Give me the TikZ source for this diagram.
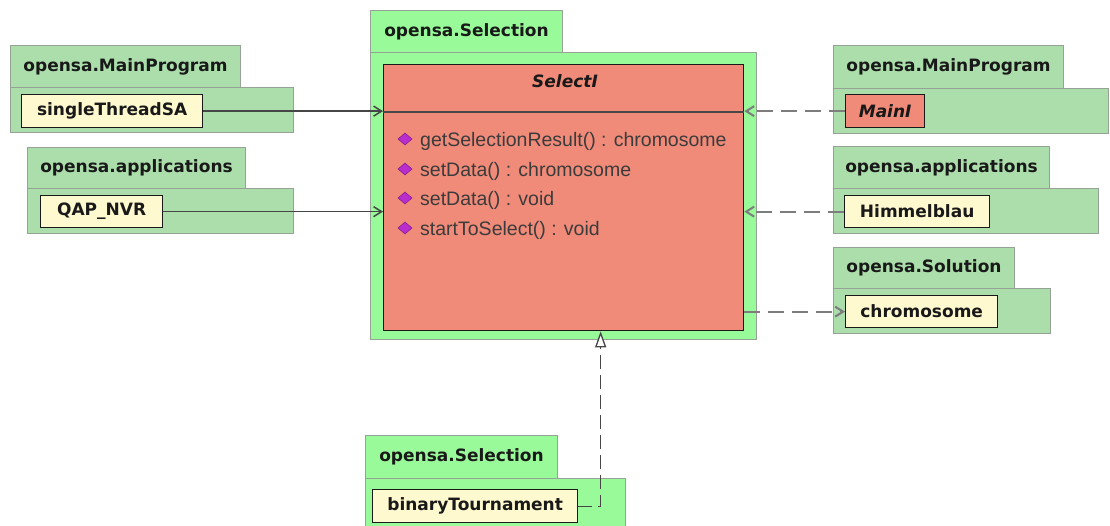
\documentclass[tikz,border=0pt]{standalone}
\usepackage{fontspec}
\setmainfont{Liberation Sans}
\newfontfamily\lblfont{DejaVu Sans}
\usetikzlibrary{arrows.meta}

\definecolor{pkgmuted}{RGB}{172,222,172}
\definecolor{pkgbright}{RGB}{152,250,152}
\definecolor{pkgedge}{RGB}{150,162,150}
\definecolor{clsfill}{RGB}{240,139,121}
\definecolor{leaffill}{RGB}{255,249,207}
\definecolor{gemcol}{RGB}{185,45,205}
\definecolor{gemedge}{RGB}{110,20,130}
\definecolor{inkdark}{RGB}{25,25,25}
\definecolor{linkdark}{RGB}{70,70,70}
\definecolor{linkgray}{RGB}{125,125,125}

\tikzset{
  x=1pt, y=-1pt,
  pkgbody/.style={draw=pkgedge, fill=pkgmuted, line width=1pt, anchor=north west, inner sep=0pt},
  pkgtab/.style={pkgbody, text=inkdark, font=\lblfont\bfseries\fontsize{17}{20}\selectfont},
  corebody/.style={pkgbody, fill=pkgbright},
  coretab/.style={pkgtab, fill=pkgbright},
  leaf/.style={draw=inkdark, fill=leaffill, line width=1.3pt, anchor=north west, inner sep=0pt,
    text=inkdark, font=\lblfont\bfseries\fontsize{17}{20}\selectfont},
  ileaf/.style={leaf, fill=clsfill, font=\lblfont\bfseries\itshape\fontsize{17}{20}\selectfont},
  clsbox/.style={draw=inkdark, fill=clsfill, line width=1.3pt, anchor=north west, inner sep=0pt},
  optext/.style={anchor=west, inner sep=0pt, text=inkdark!85, font=\fontsize{19.5}{22}\selectfont},
  opgem/.pic={\fill[gemcol, draw=gemedge, line width=0.4pt] (0,-6) -- (7,0) -- (0,6) -- (-7,0) -- cycle;},
  uses/.style={draw=linkdark, line width=1.5pt, -{Straight Barb[length=8pt,width=10pt]}},
  depend/.style={draw=linkgray, line width=2pt, dash pattern=on 16pt off 8pt,
    -{Straight Barb[length=8pt,width=10pt]}},
  realize/.style={draw=linkdark, line width=1.3pt, dash pattern=on 14pt off 6pt,
    -{Triangle[open, fill=white, length=16pt, width=11pt]}}
}

\begin{document}
\begin{tikzpicture}
\useasboundingbox (0,0) rectangle (1110,526);

% central package with the interface
\node[corebody, minimum width=386pt, minimum height=287pt] (corepkg) at (370,52) {};
\node[coretab, minimum width=192pt, minimum height=42pt] (coretab) at (370,10) {opensa.Selection};
\node[clsbox, minimum width=360pt, minimum height=266pt] (cls) at (383,64) {};
\node[inner sep=0pt, text=inkdark, font=\lblfont\bfseries\itshape\fontsize{17}{20}\selectfont] (clsname) at (565,81) {SelectI};
\draw[draw=inkdark!80, line width=1.3pt] (cls.west |- 0,112) -- (cls.east |- 0,112);

\pic at (405,139) {opgem};
\node[optext] (op1) at (420,141) {getSelectionResult() : chromosome};
\pic at (405,169) {opgem};
\node[optext] (op2) at (420,171) {setData() : chromosome};
\pic at (405,198) {opgem};
\node[optext] (op3) at (420,200) {setData() : void};
\pic at (405,228) {opgem};
\node[optext] (op4) at (420,230) {startToSelect() : void};

% left: opensa.MainProgram
\node[pkgbody, minimum width=283pt, minimum height=45pt] (lmainbody) at (10,87) {};
\node[pkgtab, minimum width=230pt, minimum height=42pt] (lmaintab) at (10,45) {opensa.MainProgram};
\node[leaf, minimum width=181pt, minimum height=33pt] (sts) at (21,94) {singleThreadSA};

% left: opensa.applications
\node[pkgbody, minimum width=266pt, minimum height=45pt] (lappbody) at (27,188) {};
\node[pkgtab, minimum width=218pt, minimum height=41pt] (lapptab) at (27,147) {opensa.applications};
\node[leaf, minimum width=122pt, minimum height=32pt] (qap) at (40,195) {QAP\_NVR};

% right: opensa.MainProgram
\node[pkgbody, minimum width=275pt, minimum height=45pt] (rmainbody) at (833,88) {};
\node[pkgtab, minimum width=230pt, minimum height=43pt] (rmaintab) at (833,45) {opensa.MainProgram};
\node[ileaf, minimum width=79pt, minimum height=33pt] (maini) at (845,94) {MainI};

% right: opensa.applications
\node[pkgbody, minimum width=265pt, minimum height=45pt] (rappbody) at (833,188) {};
\node[pkgtab, minimum width=216pt, minimum height=42pt] (rapptab) at (833,146) {opensa.applications};
\node[leaf, minimum width=145pt, minimum height=32pt] (himmel) at (844,195) {Himmelblau};

% right: opensa.Solution
\node[pkgbody, minimum width=217pt, minimum height=45pt] (solbody) at (833,288) {};
\node[pkgtab, minimum width=181pt, minimum height=41pt] (soltab) at (833,247) {opensa.Solution};
\node[leaf, minimum width=152pt, minimum height=32pt] (chrom) at (845,295) {chromosome};

% bottom: opensa.Selection
\node[corebody, minimum width=260pt, minimum height=60pt] (bselbody) at (365,478) {};
\node[coretab, minimum width=192pt, minimum height=43pt] (bseltab) at (365,435) {opensa.Selection};
\node[leaf, minimum width=205pt, minimum height=33pt] (bt) at (372,489) {binaryTournament};

% connectors
\draw[uses] (sts.east) -- (sts.east -| cls.west);
\draw[uses] (qap.east) -- (qap.east -| cls.west);
\draw[depend] (maini.west) -- (maini.west -| cls.east);
\draw[depend] (himmel.west) -- (himmel.west -| cls.east);
\draw[depend] (chrom.west -| cls.east) -- (chrom.west);
\path (cls.south) ++(37,0) coordinate (rz);
\draw[realize] (bt.east) -| (rz);
\end{tikzpicture}
\end{document}
